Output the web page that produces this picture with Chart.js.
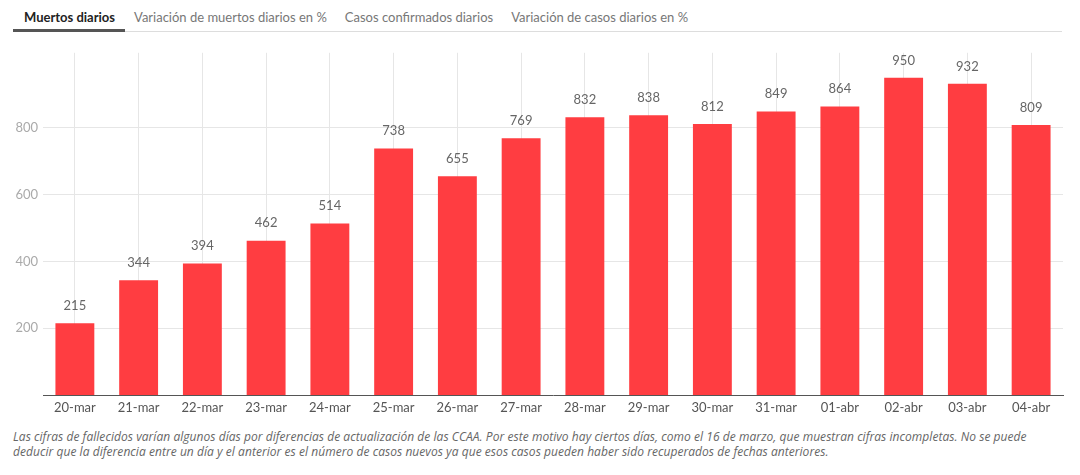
<!DOCTYPE html>
<html>
<head>
<meta charset="utf-8">
<script src="https://cdn.jsdelivr.net/npm/chart.js@4"></script>
<style>
    body { margin: 0; background: #fff; font-family: Lato, "Open Sans", sans-serif; }
    .tabs { position: absolute; left: 13px; top: 7px; width: 1049px; height: 24px; border-bottom: 1px solid #ddd; }
    .tab { float: left; font-size: 13px; color: #777; padding: 2px 9px 0 9px; height: 22px; }
    .tab.active { color: #222; font-weight: bold; border-bottom: 3px solid #555; height: 20px; }
    .tab:first-child { padding-left: 11px; padding-right: 10px; }
    .chart-box { position: absolute; left: 0; top: 40px; width: 1080px; height: 380px; }
    .note { position: absolute; left: 13px; top: 429px; font-family: "Open Sans", sans-serif; font-size: 12px; font-style: italic; color: #666; line-height: 15px; white-space: nowrap; letter-spacing: 0.05px; }
</style>
</head>
<body>
<div class="tabs">
    <div class="tab active">Muertos diarios</div>
    <div class="tab">Variación de muertos diarios en %</div>
    <div class="tab">Casos confirmados diarios</div>
    <div class="tab">Variación de casos diarios en %</div>
</div>
<div class="chart-box"><canvas id="deathsChart"></canvas></div>
<div class="note">Las cifras de fallecidos varían algunos días por diferencias de actualización de las CCAA. Por este motivo hay ciertos días, como el 16 de marzo, que muestran cifras incompletas. No se puede<br>deducir que la diferencia entre un día y el anterior es el número de casos nuevos ya que esos casos pueden haber sido recuperados de fechas anteriores.</div>
<script>
// --- Data ---
const days = ['20-mar', '21-mar', '22-mar', '23-mar', '24-mar', '25-mar', '26-mar', '27-mar',
    '28-mar', '29-mar', '30-mar', '31-mar', '01-abr', '02-abr', '03-abr', '04-abr'];
const deaths = [215, 344, 394, 462, 514, 738, 655, 769, 832, 838, 812, 849, 864, 950, 932, 809];
const yTicks = [200, 400, 600, 800];

// value labels above each bar
const valueLabels = {
    id: 'valueLabels',
    afterDatasetsDraw(chart) {
        const ctx = chart.ctx;
        const meta = chart.getDatasetMeta(0);
        ctx.save();
        ctx.font = '13px Lato, "Open Sans", sans-serif';
        ctx.fillStyle = '#666';
        ctx.textAlign = 'center';
        ctx.textBaseline = 'bottom';
        meta.data.forEach((bar, i) => {
            ctx.fillText(deaths[i], bar.x, bar.y - 11);
        });
        ctx.restore();
    }
};

const ctx = document.getElementById('deathsChart').getContext('2d');
new Chart(ctx, {
    type: 'bar',
    data: {
        labels: days,
        datasets: [{
            data: deaths,
            backgroundColor: '#ff3d41',
            borderWidth: 0,
            categoryPercentage: 0.61,
            barPercentage: 1
        }]
    },
    options: {
        responsive: true,
        maintainAspectRatio: false,
        animation: false,
        layout: { padding: { top: 12, right: 17, left: 0, bottom: 0 } },
        plugins: {
            legend: { display: false },
            tooltip: { enabled: false }
        },
        scales: {
            x: {
                grid: { color: '#e6e6e6', offset: false, drawTicks: false },
                border: { color: '#555', width: 1 },
                ticks: { color: '#555', font: { size: 13, family: 'Lato, "Open Sans", sans-serif' }, padding: 5, maxRotation: 0, autoSkip: false },
                afterFit: (scale) => { scale.height = 25; }
            },
            y: {
                min: 0,
                max: 1025,
                grid: { color: '#e6e6e6', drawTicks: false },
                border: { display: false },
                ticks: { color: '#aaa', font: { size: 13, family: 'Lato, "Open Sans", sans-serif' }, padding: 5 },
                afterBuildTicks: (scale) => { scale.ticks = yTicks.map(v => ({ value: v })); },
                afterFit: (scale) => { scale.width = 43; }
            }
        }
    },
    plugins: [valueLabels]
});
</script>
</body>
</html>
